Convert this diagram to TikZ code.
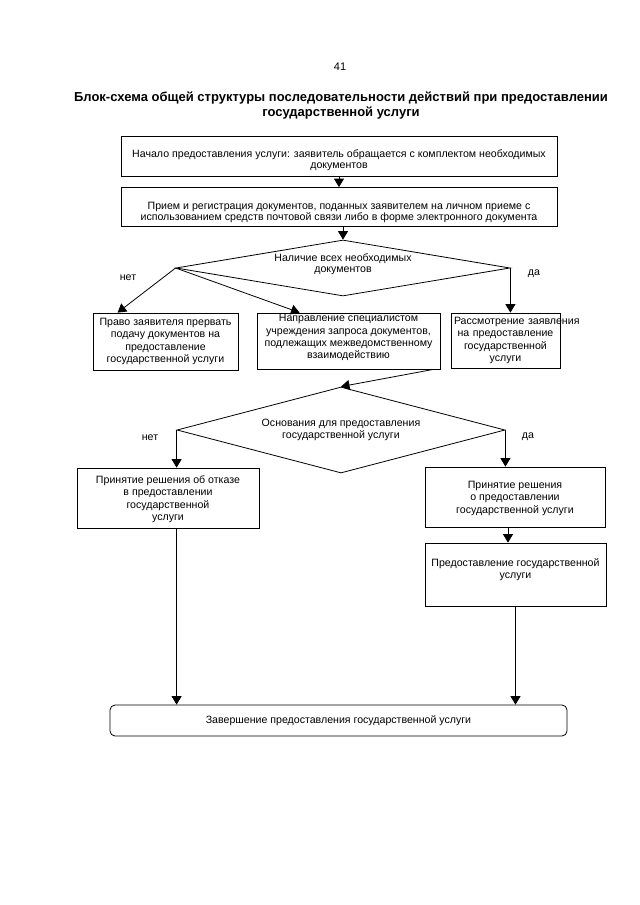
\documentclass[tikz,border=0pt]{standalone}
\usepackage{fontspec}
\setmainfont{Liberation Sans}
\usetikzlibrary{arrows.meta,shapes.geometric}
\newcommand{\bodyfont}{\fontsize{10.6bp}{12.3bp}\selectfont}
\newcommand{\topfont}{\fontsize{10.6bp}{11bp}\selectfont}
\newcommand{\tstrut}[1]{\rule{0pt}{#1}}
\newcommand{\bstrut}[1]{\rule[-#1]{0pt}{#1}}
\tikzset{
  bx/.style={draw, line width=0.8bp, align=center, inner xsep=3bp, inner ysep=0bp, font=\bodyfont},
  dm/.style={draw, diamond, line width=0.8bp, align=center, inner sep=0bp, font=\bodyfont},
  arr/.style={-{Triangle[length=8.5bp,width=10bp]}, line width=0.8bp},
  lbl/.style={font=\bodyfont, inner sep=0bp},
}
\begin{document}
\begin{tikzpicture}[x=1bp,y=-1bp]
\fill[white] (0,0) rectangle (640,905);
\useasboundingbox (0,0) rectangle (640,905);

\node[lbl, font=\fontsize{11bp}{13bp}\selectfont] (pg) at (340,67) {41};
\node[lbl, align=center, font=\fontsize{13bp}{15bp}\selectfont\bfseries] (title) at (341,106)
  {Блок-схема общей структуры последовательности действий при предоставлении\\государственной услуги};

\node[bx, font=\topfont, minimum width=436bp, minimum height=40bp] (b1) at (339,156)
  {\tstrut{16.6bp}Начало предоставления услуги: заявитель обращается с комплектом необходимых\\документов};
\node[bx, font=\topfont, minimum width=436bp, minimum height=39bp] (b2) at (339,207)
  {\tstrut{18bp}Прием и регистрация документов, поданных заявителем на личном приеме с\\использованием средств почтовой связи либо в форме электронного документа};

\node[dm, font=\topfont, minimum width=334bp, minimum height=56bp, shape aspect=6] (d1) at (343,268)
  {Наличие всех необходимых\\документов\bstrut{10bp}};

\node[bx, minimum width=145bp, minimum height=57bp] (pravo) at (165.5,341.5)
  {Право заявителя прервать\\подачу документов на\\предоставление\\государственной услуги};
\node[bx, minimum width=183bp, minimum height=56bp] (napr) at (348.5,341)
  {Направление специалистом\\учреждения запроса документов,\\подлежащих межведомственному\\взаимодействию\bstrut{9bp}};
\node[bx, text width=103bp, minimum height=55bp] (rass) at (505.5,340.5)
  {\mbox{Рассмотрение заявления}\\на предоставление\\государственной\\услуги};

\node[dm, minimum width=328bp, minimum height=86bp, shape aspect=4] (d2) at (341,430)
  {Основания для предоставления\\государственной услуги};

\node[bx, minimum width=182bp, minimum height=60bp] (otkaz) at (168,498)
  {\tstrut{10bp}Принятие решения об отказе\\в предоставлении\\государственной\\услуги};
\node[bx, minimum width=180bp, minimum height=60bp] (prin) at (515,497)
  {\tstrut{10bp}Принятие решения\\о предоставлении\\государственной услуги};
\node[bx, minimum width=181bp, minimum height=63bp] (pred) at (515.5,574.5)
  {Предоставление государственной\\услуги\bstrut{12bp}};

\node[bx, rounded corners=5bp, minimum width=457bp, minimum height=31bp] (fin) at (338.5,720.5)
  {Завершение предоставления государственной услуги};

\node[lbl] (no1) at (128,278) {нет};
\node[lbl] (yes1) at (534,274) {да};
\node[lbl] (no2) at (150,438) {нет};
\node[lbl] (yes2) at (528,437) {да};

\draw[arr] (b1.south) -- (b2.north);
\draw[arr] (b2.south -| d1.north) -- (d1.north);
\draw[arr] (d1.west) -- ([xshift=25bp]pravo.north west);
\draw[arr] (d1.west) -- ([xshift=43bp]napr.north west);
\draw[arr] (d1.east) -- (d1.east |- rass.north);
\draw[arr] ([xshift=-7bp]napr.south east) -- (d2.north);
\draw[arr] (d2.west) -- (d2.west |- otkaz.north);
\draw[arr] (d2.east) -- (d2.east |- prin.north);
\draw[arr] ([xshift=-7bp]prin.south) -- ([xshift=-7bp]prin.south |- pred.north);
\draw[arr] (d2.west |- otkaz.south) -- (d2.west |- fin.north);
\draw[arr] (pred.south) -- (pred.south |- fin.north);
\end{tikzpicture}
\end{document}
